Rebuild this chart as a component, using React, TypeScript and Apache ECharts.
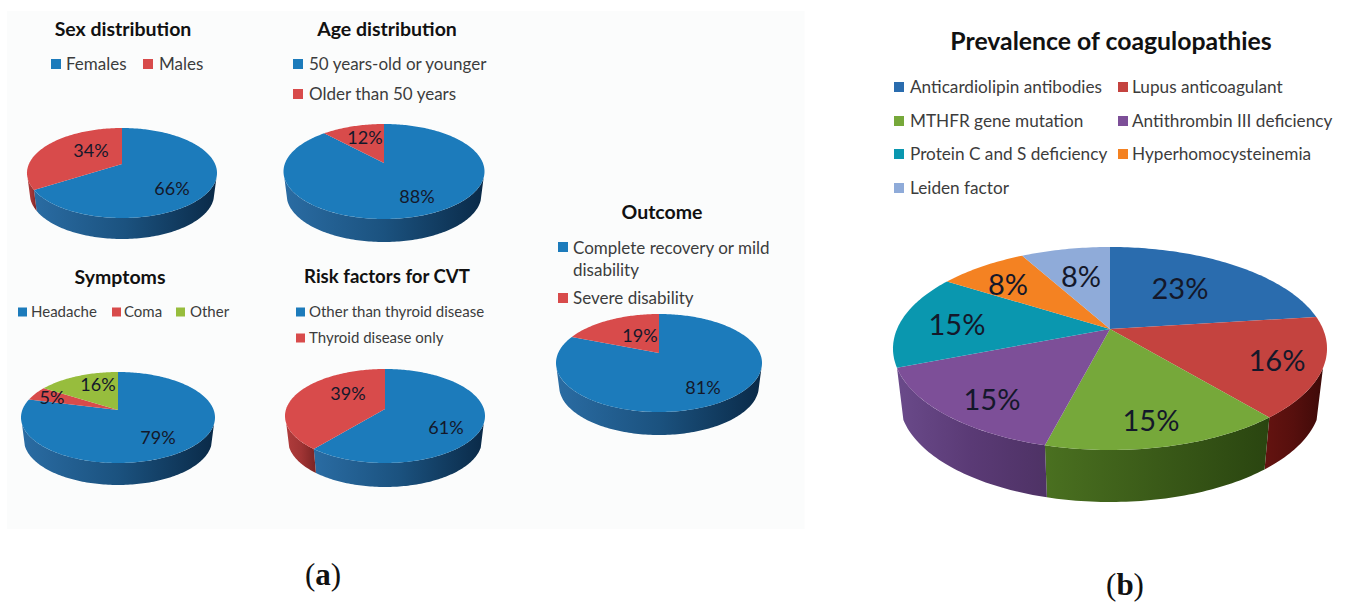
import React, { useEffect, useRef } from "react";
import * as echarts from "echarts";

// ---- data ----
const sexNames = ["Females", "Males"];
const sexValues = [66, 34];
const ageNames = ["50 years-old or younger", "Older than 50 years"];
const ageValues = [88, 12];
const symptomNames = ["Headache", "Coma", "Other"];
const symptomValues = [79, 5, 16];
const riskNames = ["Other than thyroid disease", "Thyroid disease only"];
const riskValues = [61, 39];
const outcomeNames = ["Complete recovery or mild\ndisability", "Severe disability"];
const outcomeValues = [81, 19];
const coagNames = [
  "Anticardiolipin antibodies",
  "Lupus anticoagulant",
  "MTHFR gene mutation",
  "Antithrombin III deficiency",
  "Protein C and S deficiency",
  "Hyperhomocysteinemia",
  "Leiden factor",
];
const coagValues = [23, 16, 15, 15, 15, 8, 8];

// ---- styles: [top face, side left, side middle, side right] ----
const BLUE = ["#1c7bbb", "#2a6ca3", "#1b527f", "#0a2a48"];
const RED = ["#d84b4b", "#b03c3c", "#a03434", "#7a2424"];
const GREEN = ["#97bd3d", "#7a9a30", "#6a8a28", "#567020"];
const pieA3 = [BLUE, RED, GREEN];
const coagColors = [
  ["#2a6cae", "#2a5a8a", "#234c75", "#1c3c5e"],
  ["#c4433f", "#641310", "#560f0d", "#3e0a08"],
  ["#76a83a", "#4a7020", "#3a5a18", "#2a4510"],
  ["#7d4f98", "#6a4a8a", "#5a3a75", "#4e3265"],
  ["#0a97af", "#0a7488", "#085e70", "#064a58"],
  ["#f48222", "#c86a1a", "#a85a16", "#8a4a12"],
  ["#8fabd9", "#7a94bc", "#6a82a6", "#5a7090"],
];

type Pie = {
  values: number[];
  colors: string[][];
  cx: number; apexY: number; rx: number; up: number; down: number; depth: number;
  labels: number[][];
  fontSize: number;
  sideV0: number;
};

const pies: Pie[] = [
  { values: sexValues, colors: pieA3, cx: 122, apexY: 164, rx: 95, up: 36, down: 54, depth: 21, labels: [[172, 188], [91, 150]], fontSize: 18, sideV0: 0.3 },
  { values: ageValues, colors: pieA3, cx: 384, apexY: 163, rx: 100.5, up: 39, down: 56, depth: 23, labels: [[417, 196], [365, 137]], fontSize: 18, sideV0: 0.3 },
  { values: symptomValues, colors: pieA3, cx: 118, apexY: 410, rx: 97, up: 38, down: 53, depth: 22, labels: [[158, 437], [52, 397], [98, 384]], fontSize: 18, sideV0: 0.3 },
  { values: riskValues, colors: pieA3, cx: 385, apexY: 409, rx: 100, up: 40, down: 54, depth: 24, labels: [[446, 427], [348, 393]], fontSize: 18, sideV0: 0.3 },
  { values: outcomeValues, colors: pieA3, cx: 659, apexY: 353, rx: 103, up: 39, down: 59, depth: 23, labels: [[703, 387], [640, 335]], fontSize: 18, sideV0: 0.3 },
  { values: coagValues, colors: coagColors, cx: 1110, apexY: 329, rx: 217, up: 82, down: 121, depth: 52, labels: [[1180, 287], [1277, 359], [1151, 419], [992, 398], [957, 323], [1008, 283], [1081, 275]], fontSize: 29, sideV0: 0.37 },
];

const FONT = "Lato, 'Open Sans', sans-serif";
const SIDE_NARROW = 0.97;

function pieSeries(pie: Pie, index: number) {
  const total = pie.values.reduce((a, b) => a + b, 0);
  const k = (pie.down - pie.up) / (pie.down + pie.up);
  const t = pie.down * (1 - k);
  const s = pie.rx * Math.sqrt(1 - k * k);
  const project = (theta: number) => {
    const u = Math.sin(theta);
    const v = -Math.cos(theta);
    const w = 1 - k * v;
    return [pie.cx + (s * u) / w, pie.apexY + (t * v) / w];
  };
  const arc = (a: number, b: number) => {
    const n = Math.max(2, Math.ceil((b - a) / 0.02));
    const pts: number[][] = [];
    for (let i = 0; i <= n; i++) pts.push(project(a + ((b - a) * i) / n));
    return pts;
  };
  const frontA = Math.acos(-pie.sideV0);
  const frontB = 2 * Math.PI - frontA;
  return {
    type: "custom",
    name: "pie" + index,
    coordinateSystem: "none",
    silent: true,
    clip: false,
    animation: false,
    data: pie.values,
    renderItem: (params: any, api: any) => {
      const i = params.dataIndex;
      const value = api.value(0);
      const before = pie.values.slice(0, i).reduce((a, b) => a + b, 0);
      const a0 = (before / total) * Math.PI * 2;
      const a1 = ((before + value) / total) * Math.PI * 2;
      const col = pie.colors[i];
      const children: any[] = [];
      const sa = Math.max(a0, frontA);
      const sb = Math.min(a1, frontB);
      if (sb > sa) {
        const top = arc(sa, sb);
        const bottom = top
          .map((p) => [pie.cx + (p[0] - pie.cx) * SIDE_NARROW, p[1] + pie.depth])
          .reverse();
        children.push({
          type: "polygon",
          silent: true,
          shape: { points: top.concat(bottom) },
          style: {
            fill: new echarts.graphic.LinearGradient(0, 0, 1, 0, [
              { offset: 0, color: col[1] },
              { offset: 0.5, color: col[2] },
              { offset: 1, color: col[3] },
            ]),
          },
        });
      }
      children.push({
        type: "polygon",
        silent: true,
        shape: { points: [[pie.cx, pie.apexY]].concat(arc(a0, a1)) },
        style: { fill: col[0] },
      });
      return { type: "group", children };
    },
    z: 2 + index,
  };
}

function pieLabels(pie: Pie) {
  return pie.values.map((v, i) => ({
    type: "text",
    z: 100,
    silent: true,
    style: {
      text: v + "%",
      x: pie.labels[i][0],
      y: pie.labels[i][1],
      align: "center",
      verticalAlign: "middle",
      font: `${pie.fontSize}px ${FONT}`,
      fill: "#14182a",
    },
  }));
}

function title(text: string, x: number, y: number, size: number) {
  return {
    type: "text", z: 100, silent: true,
    style: { text, x, y, align: "center", verticalAlign: "middle", font: `bold ${size}px ${FONT}`, fill: "#111111" },
  };
}

function legend(text: string, swatchX: number, textX: number, y: number, size: number, color: string, sw = 10, textY = y - 1) {
  return [
    { type: "rect", z: 100, silent: true, shape: { x: swatchX, y: y - sw / 2, width: sw, height: sw }, style: { fill: color } },
    {
      type: "text", z: 100, silent: true,
      style: { text, x: textX, y: textY, align: "left", verticalAlign: "middle", font: `${size}px ${FONT}`, fill: "#3c3c3c", lineHeight: 22 },
    },
  ];
}

function panelLabel(letter: string, x: number, y: number, size: number) {
  return {
    type: "text", z: 100, silent: true,
    style: {
      text: `{p|(}{b|${letter}}{p|)}`,
      x, y, align: "center", verticalAlign: "middle",
      rich: {
        p: { font: `${size}px 'Liberation Serif', serif`, fill: "#111111", lineHeight: 28 },
        b: { font: `bold ${size}px 'Liberation Serif', serif`, fill: "#111111", lineHeight: 28 },
      },
    },
  };
}

export default function App() {
  const ref = useRef<HTMLDivElement>(null);
  useEffect(() => {
    const chart = echarts.init(ref.current as HTMLDivElement, undefined, { renderer: "svg" });
    const blue = BLUE[0], red = RED[0], green = GREEN[0];
    const coagLegendX = [[894, 910], [1118, 1132]];
    const coagRows = [87, 121, 154, 188];
    const graphic: any[] = [
      { type: "rect", z: -1, silent: true, shape: { x: 7, y: 11, width: 797.5, height: 518 }, style: { fill: "#fbfcfc" } },
      title("Sex distribution", 123, 28, 19.5),
      title("Age distribution", 387, 28, 19.5),
      title("Symptoms", 120, 276, 19.5),
      title("Risk factors for CVT", 387, 276, 18.6),
      title("Outcome", 662, 211, 19.5),
      title("Prevalence of coagulopathies", 1111, 40, 24.8),
      ...legend(sexNames[0], 51, 66, 64, 17, blue),
      ...legend(sexNames[1], 143, 159, 64, 17, red),
      ...legend(ageNames[0], 293, 309, 64, 17, blue),
      ...legend(ageNames[1], 293, 309, 94, 17, red),
      ...legend(symptomNames[0], 18, 31, 312, 15, blue, 9),
      ...legend(symptomNames[1], 112, 124, 312, 15, red, 9),
      ...legend(symptomNames[2], 176, 190, 312, 15, green, 9),
      ...legend(riskNames[0], 296, 309, 312, 15, blue, 9),
      ...legend(riskNames[1], 296, 309, 338, 15, red, 9),
      ...legend(outcomeNames[0], 558, 573, 247, 17, blue, 10, 258),
      ...legend(outcomeNames[1], 558, 573, 298, 17, red),
      ...coagNames.flatMap((n, i) =>
        legend(n, coagLegendX[i % 2][0], coagLegendX[i % 2][1], coagRows[Math.floor(i / 2)], 17.2, coagColors[i][0]),
      ),
      panelLabel("a", 323, 574, 31),
      panelLabel("b", 1125, 584, 31),
      ...pies.flatMap(pieLabels),
    ];
    chart.setOption({
      animation: false,
      backgroundColor: "#ffffff",
      series: pies.map(pieSeries),
      graphic,
    });
    return () => chart.dispose();
  }, []);
  return <div ref={ref} style={{ position: "absolute", left: 0, top: 0, width: 1346, height: 602 }} />;
}
